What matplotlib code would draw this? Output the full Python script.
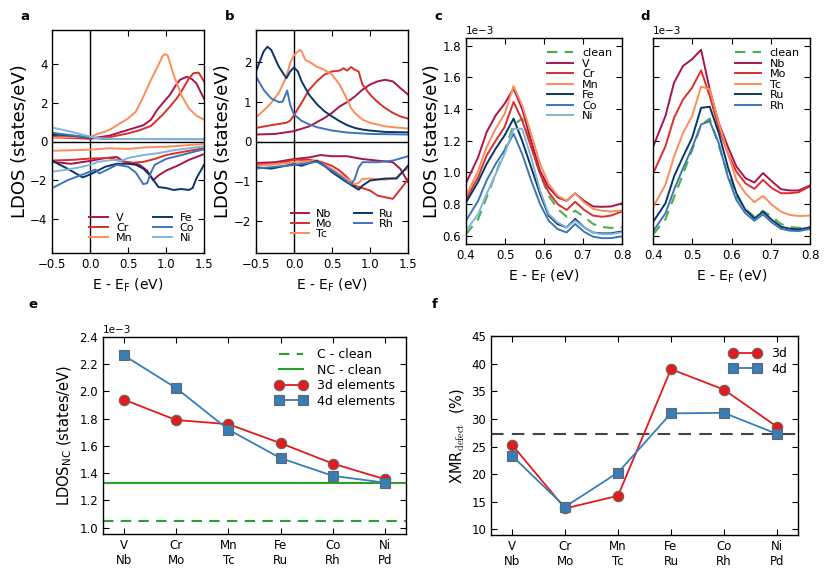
import matplotlib
matplotlib.use('Agg')
import matplotlib.pyplot as plt

# ---------------- data ----------------
# panel a : 3d dopants, spin-resolved LDOS (states/eV)
V_up_E = [-0.5, -0.25, 0.0, 0.25, 0.5, 0.7, 0.8, 0.88, 0.96, 1.05, 1.12, 1.18, 1.27, 1.34, 1.4, 1.5]
V_up = [0.30, 0.20, 0.15, 0.30, 0.60, 0.84, 1.12, 1.62, 2.00, 2.40, 2.85, 3.17, 3.34, 3.22, 3.00, 2.20]
Cr_up_E = [-0.5, -0.25, 0.0, 0.25, 0.5, 0.65, 0.8, 0.96, 1.05, 1.14, 1.22, 1.3, 1.36, 1.43, 1.5]
Cr_up = [0.22, 0.18, 0.15, 0.22, 0.42, 0.58, 0.80, 1.40, 1.80, 2.22, 2.70, 3.25, 3.52, 3.55, 3.10]
Mn_up_E = [-0.5, -0.25, 0.0, 0.25, 0.5, 0.6, 0.7, 0.8, 0.9, 0.95, 0.98, 1.02, 1.1, 1.2, 1.3, 1.4, 1.5]
Mn_up = [0.20, 0.22, 0.25, 0.59, 1.19, 1.53, 2.31, 3.17, 3.95, 4.38, 4.50, 4.45, 3.43, 2.40, 1.71, 1.33, 1.12]
Fe_up_E = [-0.5, -0.25, 0.0, 0.25, 1.5]
Fe_up = [0.38, 0.30, 0.20, 0.13, 0.12]
Co_up_E = [-0.5, -0.2, 0.0, 0.25, 1.5]
Co_up = [0.45, 0.30, 0.20, 0.13, 0.12]
Ni_up_E = [-0.5, -0.25, 0.0, 0.1, 0.3, 1.5]
Ni_up = [0.72, 0.50, 0.25, 0.17, 0.13, 0.13]

V_dn_E = [-0.5, -0.25, 0.0, 0.2, 0.35, 0.45, 0.55, 0.65, 0.75, 0.83, 0.9, 1.0, 1.15, 1.3, 1.5]
V_dn = [-1.05, -1.15, -1.00, -0.85, -0.80, -1.05, -1.10, -1.20, -1.50, -2.00, -1.75, -1.50, -1.25, -0.95, -0.65]
Cr_dn_E = [-0.5, -0.25, 0.0, 0.25, 0.4, 0.55, 0.7, 0.85, 1.0, 1.2, 1.5]
Cr_dn = [-0.98, -0.95, -0.88, -0.85, -1.00, -1.10, -1.05, -0.90, -0.70, -0.55, -0.35]
Mn_dn_E = [-0.5, -0.25, 0.0, 0.25, 0.5, 0.75, 1.0, 1.25, 1.5]
Mn_dn = [-0.48, -0.45, -0.42, -0.35, -0.38, -0.30, -0.27, -0.20, -0.12]
Fe_dn_E = [-0.5, -0.3, -0.1, 0.0, 0.1, 0.2, 0.35, 0.5, 0.6, 0.7, 0.8, 0.9, 1.0, 1.1, 1.2, 1.3, 1.35, 1.4, 1.5]
Fe_dn = [-1.00, -1.40, -1.85, -1.70, -1.50, -1.30, -1.15, -1.15, -1.20, -1.40, -1.80, -2.35, -2.40, -2.50, -2.45, -2.50, -2.40, -1.90, -1.20]
Co_dn_E = [-0.5, -0.3, -0.1, 0.0, 0.07, 0.12, 0.2, 0.35, 0.5, 0.6, 0.7, 0.75, 0.8, 0.85, 1.0, 1.2, 1.5]
Co_dn = [-2.40, -2.00, -1.70, -1.55, -1.45, -1.65, -1.50, -1.20, -1.30, -1.60, -2.20, -2.15, -1.60, -1.20, -0.90, -0.70, -0.40]
Ni_dn_E = [-0.5, -0.3, -0.1, 0.0, 0.1, 0.2, 0.3, 0.4, 0.5, 0.7, 0.9, 1.1, 1.3, 1.5]
Ni_dn = [-1.55, -1.45, -1.30, -1.20, -1.05, -1.00, -0.95, -1.00, -0.85, -0.70, -0.60, -0.45, -0.35, -0.25]

# panel b : 4d dopants
Nb_up_E = [-0.5, -0.25, 0.0, 0.2, 0.4, 0.5, 0.6, 0.7, 0.8, 0.9, 1.0, 1.1, 1.2, 1.3, 1.4, 1.5]
Nb_up = [0.175, 0.19, 0.26, 0.38, 0.59, 0.72, 0.88, 0.99, 1.13, 1.30, 1.43, 1.51, 1.55, 1.51, 1.34, 1.18]
Mo_up_E = [-0.5, -0.3, -0.1, -0.05, 0.0, 0.1, 0.2, 0.3, 0.4, 0.5, 0.6, 0.65, 0.7, 0.75, 0.8, 0.85, 0.9, 1.0, 1.1, 1.2, 1.3, 1.4, 1.5]
Mo_up = [0.34, 0.41, 0.47, 0.525, 0.66, 0.97, 1.30, 1.51, 1.68, 1.76, 1.78, 1.84, 1.78, 1.87, 1.80, 1.76, 1.43, 1.18, 0.99, 0.84, 0.72, 0.63, 0.575]
Tc_up_E = [-0.5, -0.4, -0.3, -0.2, -0.1, -0.05, 0.0, 0.05, 0.08, 0.1, 0.15, 0.2, 0.3, 0.4, 0.5, 0.6, 0.7, 0.75, 0.8, 0.9, 1.0, 1.2, 1.5]
Tc_up = [0.61, 0.775, 0.97, 1.22, 1.63, 1.97, 2.17, 2.26, 2.30, 2.26, 2.05, 2.00, 1.88, 1.80, 1.68, 1.43, 1.05, 0.84, 0.72, 0.55, 0.47, 0.38, 0.325]
Ru_up_E = [-0.5, -0.4, -0.35, -0.3, -0.2, -0.1, -0.05, 0.0, 0.05, 0.1, 0.2, 0.3, 0.4, 0.5, 0.6, 0.7, 0.8, 0.9, 1.0, 1.2, 1.5]
Ru_up = [1.76, 2.26, 2.38, 2.30, 1.88, 1.59, 1.76, 1.86, 1.76, 1.51, 1.17, 0.94, 0.76, 0.63, 0.51, 0.41, 0.34, 0.30, 0.275, 0.24, 0.23]
Rh_up_E = [-0.5, -0.4, -0.3, -0.2, -0.15, -0.09, -0.05, 0.0, 0.1, 0.2, 0.3, 0.5, 0.7, 1.0, 1.5]
Rh_up = [1.63, 1.30, 1.08, 0.99, 1.00, 1.28, 0.92, 0.675, 0.52, 0.43, 0.36, 0.275, 0.225, 0.19, 0.175]

Nb_dn_E = [-0.5, -0.25, 0.0, 0.2, 0.35, 0.5, 0.7, 0.9, 1.1, 1.3, 1.4, 1.5]
Nb_dn = [-0.54, -0.52, -0.44, -0.40, -0.34, -0.37, -0.37, -0.44, -0.48, -0.52, -0.69, -1.02]
Mo_dn_E = [-0.5, -0.25, 0.0, 0.2, 0.35, 0.5, 0.6, 0.7, 0.8, 0.9, 1.0, 1.1, 1.2, 1.3, 1.4, 1.5]
Mo_dn = [-0.57, -0.57, -0.46, -0.46, -0.51, -0.61, -0.73, -0.90, -1.11, -1.17, -1.23, -1.36, -1.40, -1.44, -1.20, -0.95]
Tc_dn_E = [-0.5, 0.0, 0.3, 0.5, 0.6, 0.7, 0.8, 0.85, 0.9, 1.0, 1.2, 1.35, 1.45, 1.5]
Tc_dn = [-0.61, -0.53, -0.48, -0.69, -0.82, -0.94, -1.07, -1.04, -0.94, -0.93, -0.96, -0.90, -0.73, -0.69]
Ru_dn_E = [-0.5, -0.3, 0.0, 0.1, 0.3, 0.4, 0.5, 0.6, 0.7, 0.8, 0.85, 0.9, 1.0, 1.2, 1.35, 1.4, 1.5]
Ru_dn = [-0.65, -0.68, -0.57, -0.61, -0.48, -0.61, -0.77, -0.90, -1.03, -1.15, -1.21, -1.11, -0.98, -0.93, -0.93, -0.82, -0.61]
Rh_dn_E = [-0.5, 0.0, 0.3, 0.5, 0.6, 0.75, 0.8, 0.85, 0.9, 1.1, 1.3, 1.5]
Rh_dn = [-0.68, -0.59, -0.51, -0.73, -0.86, -1.07, -0.94, -0.65, -0.52, -0.52, -0.48, -0.37]

# panels c, d : LDOS zoom (x1e-3 states/eV)
E_cd = [0.400, 0.431, 0.453, 0.476, 0.499, 0.522, 0.544, 0.567, 0.590, 0.612,
        0.635, 0.658, 0.680, 0.703, 0.726, 0.749, 0.771, 0.794, 0.800]
clean_cd = [0.61, 0.705, 0.843, 0.99, 1.14, 1.30, 1.34, 1.17, 0.99, 0.853, 0.77, 0.72, 0.758, 0.72, 0.674, 0.655, 0.650, 0.653, 0.653]
V_cd = [0.932, 1.096, 1.255, 1.36, 1.434, 1.53, 1.40, 1.20, 1.01, 0.906, 0.843, 0.82, 0.868, 0.82, 0.785, 0.783, 0.785, 0.80, 0.805]
Cr_cd = [0.83, 0.97, 1.107, 1.20, 1.287, 1.445, 1.33, 1.16, 0.99, 0.875, 0.80, 0.763, 0.815, 0.763, 0.727, 0.72, 0.727, 0.748, 0.752]
Mn_cd = [0.85, 1.01, 1.16, 1.276, 1.37, 1.545, 1.424, 1.244, 1.054, 0.927, 0.853, 0.822, 0.868, 0.81, 0.77, 0.758, 0.754, 0.758, 0.76]
Fe_cd = [0.81, 0.94, 1.054, 1.15, 1.234, 1.34, 1.20, 1.033, 0.864, 0.727, 0.674, 0.653, 0.706, 0.653, 0.62, 0.615, 0.615, 0.625, 0.628]
Co_cd = [0.695, 0.82, 0.95, 1.054, 1.14, 1.244, 1.117, 0.95, 0.80, 0.695, 0.642, 0.621, 0.674, 0.625, 0.594, 0.585, 0.585, 0.594, 0.596]
Ni_cd = [0.632, 0.737, 0.864, 0.99, 1.117, 1.276, 1.276, 1.096, 0.885, 0.737, 0.684, 0.653, 0.695, 0.653, 0.62, 0.61, 0.61, 0.62, 0.622]
Nb_cd = [1.165, 1.356, 1.567, 1.673, 1.715, 1.775, 1.525, 1.313, 1.165, 1.038, 0.964, 0.936, 0.996, 0.943, 0.894, 0.886, 0.886, 0.911, 0.918]
Mo_cd = [0.996, 1.165, 1.345, 1.461, 1.535, 1.645, 1.483, 1.281, 1.123, 1.006, 0.932, 0.896, 0.953, 0.90, 0.869, 0.869, 0.875, 0.905, 0.91]
Tc_cd = [0.784, 0.922, 1.10, 1.25, 1.356, 1.542, 1.525, 1.313, 1.123, 0.953, 0.869, 0.812, 0.852, 0.795, 0.752, 0.731, 0.725, 0.727, 0.727]
Ru_cd = [0.689, 0.805, 0.975, 1.10, 1.218, 1.408, 1.415, 1.25, 1.038, 0.869, 0.763, 0.71, 0.752, 0.70, 0.657, 0.644, 0.64, 0.65, 0.652]
Rh_cd = [0.63, 0.742, 0.89, 1.027, 1.155, 1.303, 1.324, 1.186, 0.975, 0.826, 0.742, 0.695, 0.735, 0.683, 0.644, 0.632, 0.63, 0.64, 0.642]

# panel e, f
pair_labels = ['V\nNb', 'Cr\nMo', 'Mn\nTc', 'Fe\nRu', 'Co\nRh', 'Ni\nPd']
ldos_3d = [1.94, 1.79, 1.76, 1.62, 1.47, 1.355]   # x1e-3
ldos_4d = [2.265, 2.025, 1.72, 1.51, 1.38, 1.33]  # x1e-3
ldos_C_clean = 1.05
ldos_NC_clean = 1.33
xmr_3d = [25.3, 13.8, 16.1, 39.0, 35.3, 28.6]
xmr_4d = [23.3, 14.1, 20.3, 31.0, 31.1, 27.3]
xmr_clean = 27.2

# ---------------- style ----------------
plt.rcParams.update({
    'font.family': 'DejaVu Sans',
    'xtick.direction': 'in', 'ytick.direction': 'in',
    'xtick.top': True, 'ytick.right': True,
    'xtick.major.size': 4, 'ytick.major.size': 4,
    'xtick.labelsize': 8.5, 'ytick.labelsize': 8.5,
    'axes.labelsize': 10, 'axes.linewidth': 1.0,
    'legend.fontsize': 8,
})
C_V = '#a8154e'; C_Cr = '#d9302e'; C_Mn = '#fc8d59'
C_Fe = '#0b3567'; C_Co = '#3d74ba'; C_Ni = '#82b5dd'
C_clean = '#4daf4a'
YLAB = 13

W, H = 830, 579
fig = plt.figure(figsize=(8.3, 5.79), dpi=100)

def ax_px(l, t, r, b):
    return fig.add_axes([l / W, 1 - b / H, (r - l) / W, (b - t) / H])

lw = 1.4

# ---- panel a ----
axa = ax_px(52.3, 30, 204, 253)
axa.axhline(0, color='k', lw=1)
axa.axvline(0, color='k', lw=1)
ups_a = [(V_up_E, V_up, C_V, 'V'), (Cr_up_E, Cr_up, C_Cr, 'Cr'), (Mn_up_E, Mn_up, C_Mn, 'Mn'),
         (Fe_up_E, Fe_up, C_Fe, 'Fe'), (Co_up_E, Co_up, C_Co, 'Co'), (Ni_up_E, Ni_up, C_Ni, 'Ni')]
dns_a = [(V_dn_E, V_dn, C_V), (Cr_dn_E, Cr_dn, C_Cr), (Mn_dn_E, Mn_dn, C_Mn),
         (Fe_dn_E, Fe_dn, C_Fe), (Co_dn_E, Co_dn, C_Co), (Ni_dn_E, Ni_dn, C_Ni)]
for e, v, c, lab in ups_a:
    axa.plot(e, v, color=c, lw=lw, label=lab)
for e, v, c in dns_a:
    axa.plot(e, v, color=c, lw=lw)
axa.set_xlim(-0.5, 1.5); axa.set_ylim(-5.75, 5.75)
axa.set_xticks([-0.5, 0, 0.5, 1.0, 1.5]); axa.set_yticks([-4, -2, 0, 2, 4])
axa.set_xlabel(r'E - E$_\mathrm{F}$ (eV)')
axa.set_ylabel('LDOS (states/eV)', labelpad=1, fontsize=YLAB)
axa.legend(loc='lower right', ncol=2, frameon=False, handlelength=1.7, handletextpad=0.7,
           labelspacing=0.0, columnspacing=1.8, borderaxespad=0.5)

# ---- panel b ----
axb = ax_px(256, 30, 408, 253)
axb.axhline(0, color='k', lw=1)
axb.axvline(0, color='k', lw=1)
ups_b = [(Nb_up_E, Nb_up, C_V, 'Nb'), (Mo_up_E, Mo_up, C_Cr, 'Mo'), (Tc_up_E, Tc_up, C_Mn, 'Tc'),
         (Ru_up_E, Ru_up, C_Fe, 'Ru'), (Rh_up_E, Rh_up, C_Co, 'Rh')]
dns_b = [(Nb_dn_E, Nb_dn, C_V), (Mo_dn_E, Mo_dn, C_Cr), (Tc_dn_E, Tc_dn, C_Mn),
         (Ru_dn_E, Ru_dn, C_Fe), (Rh_dn_E, Rh_dn, C_Co)]
for e, v, c, lab in ups_b:
    axb.plot(e, v, color=c, lw=lw, label=lab)
for e, v, c in dns_b:
    axb.plot(e, v, color=c, lw=lw)
axb.set_xlim(-0.5, 1.5); axb.set_ylim(-2.8, 2.8)
axb.set_xticks([-0.5, 0, 0.5, 1.0, 1.5]); axb.set_yticks([-2, -1, 0, 1, 2])
axb.set_xlabel(r'E - E$_\mathrm{F}$ (eV)')
axb.set_ylabel('LDOS (states/eV)', labelpad=1, fontsize=YLAB)
axb.legend(loc='lower right', ncol=2, frameon=False, handlelength=1.6, handletextpad=0.6,
           labelspacing=0.0, columnspacing=2.0, borderaxespad=0.9)

# ---- panel c ----
def sc(v):
    return [x * 1e-3 for x in v]

axc = ax_px(466, 38, 622, 244)
axc.plot(E_cd, sc(clean_cd), color=C_clean, lw=1.5, ls=(0, (5, 3.5)), label='clean')
for v, c, lab in [(V_cd, C_V, 'V'), (Cr_cd, C_Cr, 'Cr'), (Mn_cd, C_Mn, 'Mn'),
                  (Fe_cd, C_Fe, 'Fe'), (Co_cd, C_Co, 'Co'), (Ni_cd, C_Ni, 'Ni')]:
    axc.plot(E_cd, sc(v), color=c, lw=lw, label=lab)
axc.set_xlim(0.4, 0.8); axc.set_ylim(0.548e-3, 1.849e-3)
axc.set_xticks([0.4, 0.5, 0.6, 0.7, 0.8])
axc.set_yticks(sc([0.6, 0.8, 1.0, 1.2, 1.4, 1.6, 1.8]))
axc.ticklabel_format(axis='y', style='sci', scilimits=(0, 0))
axc.set_xlabel(r'E - E$_\mathrm{F}$ (eV)')
axc.set_ylabel('LDOS (states/eV)', labelpad=1, fontsize=YLAB)
axc.yaxis.get_offset_text().set_fontsize(7.5)
axc.legend(loc='upper right', frameon=False, handlelength=2.3, labelspacing=0.05,
           borderaxespad=0.5)

# ---- panel d ----
axd = ax_px(653.3, 38, 810, 244)
axd.plot(E_cd, sc(clean_cd), color=C_clean, lw=1.5, ls=(0, (5, 3.5)), label='clean')
for v, c, lab in [(Nb_cd, C_V, 'Nb'), (Mo_cd, C_Cr, 'Mo'), (Tc_cd, C_Mn, 'Tc'),
                  (Ru_cd, C_Fe, 'Ru'), (Rh_cd, C_Co, 'Rh')]:
    axd.plot(E_cd, sc(v), color=c, lw=lw, label=lab)
axd.set_xlim(0.4, 0.8); axd.set_ylim(0.548e-3, 1.849e-3)
axd.set_xticks([0.4, 0.5, 0.6, 0.7, 0.8])
axd.set_yticks(sc([0.6, 0.8, 1.0, 1.2, 1.4, 1.6, 1.8]))
axd.set_xlabel(r'E - E$_\mathrm{F}$ (eV)')
axd.tick_params(labelleft=False)
axd.text(0.0, 1.01, '1e\u22123', transform=axd.transAxes, fontsize=7.5, va='bottom', ha='left')
axd.legend(loc='upper right', frameon=False, handlelength=2.3, labelspacing=0.05,
           borderaxespad=0.5)

# ---- panel e ----
C_red = '#e41a1c'; C_blue = '#377eb8'; C_green = '#2ca02c'
xs = list(range(len(pair_labels)))
axe = ax_px(103, 337, 406, 534)
axe.axhline(ldos_C_clean * 1e-3, color=C_green, lw=1.5, ls=(0, (5, 3.5)), label='C - clean')
axe.axhline(ldos_NC_clean * 1e-3, color=C_green, lw=1.5, label='NC - clean')
axe.plot(xs, sc(ldos_3d), color=C_red, lw=1.3, marker='o', ms=7.5, mec='#666666', mew=0.8,
         label='3d elements')
axe.plot(xs, sc(ldos_4d), color=C_blue, lw=1.3, marker='s', ms=7.5, mec='#666666', mew=0.8,
         label='4d elements')
axe.set_xlim(-0.4, 5.4); axe.set_ylim(0.953e-3, 2.4e-3)
axe.set_xticks(xs); axe.set_xticklabels(pair_labels)
axe.set_yticks(sc([1.0, 1.2, 1.4, 1.6, 1.8, 2.0, 2.2, 2.4]))
axe.ticklabel_format(axis='y', style='sci', scilimits=(0, 0))
axe.set_ylabel(r'LDOS$_\mathrm{NC}$ (states/eV)', fontsize=10.5)
axe.yaxis.get_offset_text().set_fontsize(7.5)
axe.legend(loc='upper right', frameon=False, numpoints=2, fontsize=9, handlelength=2.5,
           labelspacing=0.2, borderaxespad=0.5)

# ---- panel f ----
axf = ax_px(491, 336, 798, 535)
axf.axhline(xmr_clean, color='#444444', lw=1.5, ls=(0, (6, 4)))
axf.plot(xs, xmr_3d, color=C_red, lw=1.3, marker='o', ms=7.5, mec='#666666', mew=0.8, label='3d')
axf.plot(xs, xmr_4d, color=C_blue, lw=1.3, marker='s', ms=7.5, mec='#666666', mew=0.8, label='4d')
axf.set_xlim(-0.4, 5.4); axf.set_ylim(9, 45)
axf.set_xticks(xs); axf.set_xticklabels(pair_labels)
axf.set_yticks([10, 15, 20, 25, 30, 35, 40, 45])
axf.set_ylabel('XMR$_{\\mathrm{defect}}$  (%)', math_fontfamily='cm', fontsize=10.5)
axf.legend(loc='upper right', frameon=False, numpoints=2, fontsize=9, handlelength=2.5,
           labelspacing=0.2, borderaxespad=0.5)

# panel letters
for lab, x, y in [('a', 25, 17), ('b', 230, 17), ('c', 438, 17), ('d', 645, 17),
                  ('e', 33, 305), ('f', 435, 305)]:
    fig.text(x / W, 1 - y / H, lab, fontsize=9.5, fontweight='bold', ha='center', va='center')

fig.savefig('out.png', dpi=100)
